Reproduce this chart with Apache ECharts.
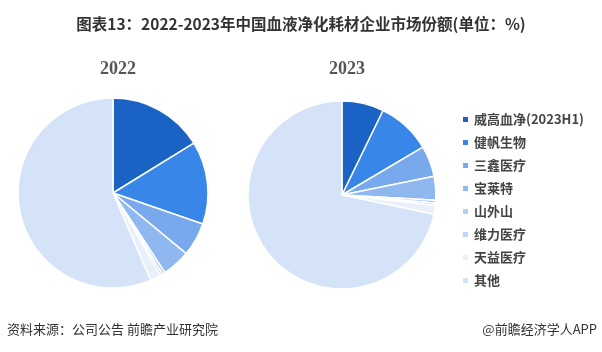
<!DOCTYPE html>
<html><head><meta charset="utf-8">
<script src="https://cdn.jsdelivr.net/npm/echarts@6/dist/echarts.min.js"></script>
<style>html,body{margin:0;padding:0;background:#fff}#c{width:602px;height:352px}</style>
</head><body><div id="c"></div>
<script>
var companies = ['威高血净(2023H1)','健帆生物','三鑫医疗','宝莱特','山外山','维力医疗','天益医疗','其他'];
var share2022 = [16.2, 14.1, 5.7, 4.8, 0.5, 0.4, 1.8, 56.5];
var share2023 = [7.2, 9.3, 5.3, 4.1, 0.5, 0.4, 1.5, 71.7];
var colors = ['#1a62c4','#3886e8','#78a9ec','#8fb8f0','#b3cff5','#bed6f5','#e8f0fc','#d4e3f8'];
var years = ['2022','2023'];

function mk(vals){ return companies.map(function(n,i){ return {name:n, value:vals[i]}; }); }
var chart = echarts.init(document.getElementById('c'), null, {renderer:'canvas'});
chart.setOption({
  animation:false,
  color: colors,
  title:[
    {text:'图表13：2022-2023年中国血液净化耗材企业市场份额(单位：%)', left:'center', top:11,
     textStyle:{fontSize:15.5, fontWeight:'bold', color:'#333', fontFamily:'Noto Sans CJK SC'}},
    {text:years[0], left:113, top:55, textAlign:'center', textStyle:{fontSize:18,fontWeight:'bold',color:'#555',fontFamily:'Liberation Serif'}},
    {text:years[1], left:342, top:55, textAlign:'center', textStyle:{fontSize:18,fontWeight:'bold',color:'#555',fontFamily:'Liberation Serif'}},
    {text:'资料来源：公司公告 前瞻产业研究院', left:2, top:318, textStyle:{fontSize:13,fontWeight:'normal',color:'#333',fontFamily:'Noto Sans CJK SC'}},
    {text:'@前瞻经济学人APP', right:0, top:318, textStyle:{fontSize:13,fontWeight:'normal',color:'#333',fontFamily:'Noto Sans CJK SC'}}
  ],
  legend:{orient:'vertical', left:456, top:108, itemWidth:7, itemHeight:7, itemGap:10, icon:'rect',
    data:companies,
    textStyle:{fontSize:13, fontWeight:'bold', color:'#444', fontFamily:'Noto Sans CJK SC'}},
  series:[
    {type:'pie', center:[113,193], radius:[0,95], startAngle:90, clockwise:true, label:{show:false}, labelLine:{show:false},
     itemStyle:{borderColor:'#fff', borderWidth:1.5}, data:mk(share2022)},
    {type:'pie', center:[342,195], radius:[0,94], startAngle:90, clockwise:true, label:{show:false}, labelLine:{show:false},
     itemStyle:{borderColor:'#fff', borderWidth:1.5}, data:mk(share2023)}
  ]
});
</script></body></html>
